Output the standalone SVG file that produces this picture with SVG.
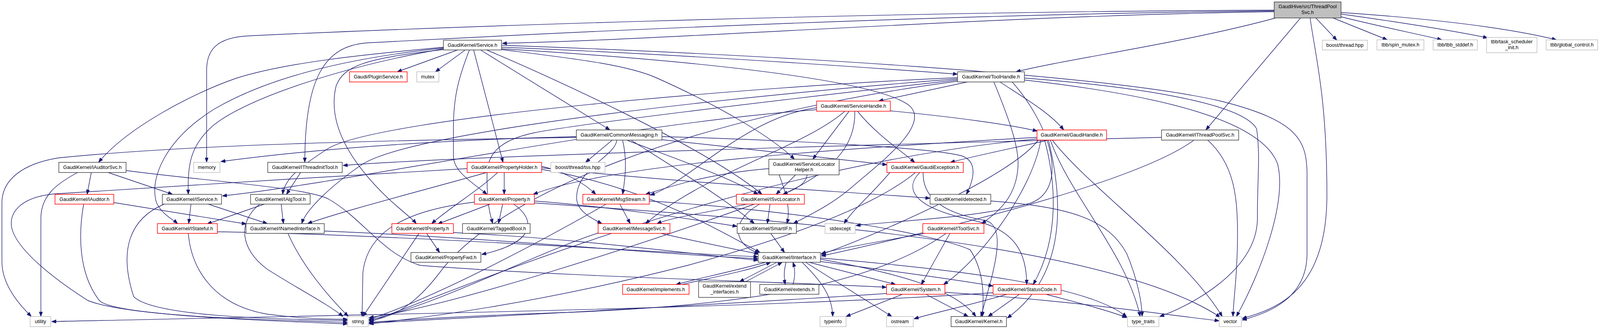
<svg xmlns="http://www.w3.org/2000/svg" width="4189" height="843" viewBox="0 0 4189 843">
<style>
.e path{fill:none;stroke:#191970;stroke-width:1.4;marker-end:url(#a)}
g.k rect{fill:#fff;stroke:#404040;stroke-width:1.5}
g.r rect{fill:#fff;stroke:#ff0000;stroke-width:1.5}
g.g rect{fill:#fff;stroke:#bfbfbf;stroke-width:1.5}
g.root rect{fill:#bfbfbf;stroke:#404040;stroke-width:1.5}
text{font-family:"Liberation Sans",Arial,Helvetica,sans-serif;font-size:13px;text-anchor:middle;fill:#000}
</style>
<defs>
<marker id="a" markerWidth="12" markerHeight="9" refX="12" refY="4.5" orient="auto" markerUnits="userSpaceOnUse"><path d="M0,0 L12,4.5 L0,9 z" fill="#191970" stroke="#191970" stroke-width="1"/></marker>
</defs>
<rect width="4189" height="843" fill="#fff"/>
<g id="diagram" transform="scale(0.9778 1)">
<g id="edges" class="e">
<path d="M3336,30 C2600,40 1800,100 1315,111"/>
<path d="M3336,26 C2200,30 1000,75 650,92 C565,96 541,130 541,180 L541,416"/>
<path d="M3336,28 C2300,38 1150,100 960,110 C850,118 798,200 798,416"/>
<path d="M3340,46 C3100,110 2800,150 2660,184"/>
<path d="M3405,46 L3157,333"/>
<path d="M3430,46 C3445,150 3474,250 3474,500 C3474,740 3350,790 3252,816"/>
<path d="M3445,46 L3500,103"/>
<path d="M3490,46 L3632,102"/>
<path d="M3511,43 C3600,65 3700,85 3775,102"/>
<path d="M3511,36 C3650,55 3800,78 3895,97"/>
<path d="M3511,32 C3750,48 3950,72 4075,102"/>
<path d="M1198,128 L1040,184"/>
<path d="M1218,128 L1140,184"/>
<path d="M1161,121 C950,140 750,160 620,200 C500,240 330,330 258,416"/>
<path d="M1161,123 C900,150 700,200 560,280 C430,360 390,460 410,520 C425,550 450,560 465,573"/>
<path d="M1161,125 C900,170 650,250 560,320 C500,370 490,420 493,498"/>
<path d="M1161,127 C950,150 900,170 880,220 C860,300 900,380 960,450 C1020,520 1070,550 1090,573"/>
<path d="M1229,128 C1200,200 1187,250 1187,330 L1187,400 C1187,440 1240,470 1275,498"/>
<path d="M1240,128 L1317,416"/>
<path d="M1258,128 L1597,333"/>
<path d="M1274,128 C1450,200 1850,380 1995,498"/>
<path d="M1313,116 C2000,140 2900,190 3200,260 C3400,310 3422,360 3422,450 L3422,650 C3422,760 3330,800 3252,820"/>
<path d="M1313,121 C1800,140 2300,175 2507,190"/>
<path d="M1313,125 C1900,160 2300,210 2380,270 C2440,320 2300,420 2230,480 C2170,530 2110,555 2077,573"/>
<path d="M1313,127 C1500,150 1640,165 1720,200 C1880,270 2020,350 2080,408"/>
<path d="M2533,210 L2300,259"/>
<path d="M2618,210 C2680,250 2750,290 2785,333"/>
<path d="M2507,199 C2000,220 1000,300 860,380 C780,430 745,460 740,498"/>
<path d="M2507,202 C2000,240 1100,330 950,420 C860,480 800,540 790,573"/>
<path d="M2507,205 C2000,260 1500,320 1400,340 C1300,360 1275,400 1275,450 C1275,530 1285,555 1290,573"/>
<path d="M2602,210 C2640,300 2670,380 2665,430 C2660,500 2620,540 2570,573"/>
<path d="M2650,210 C2750,320 2800,480 2700,520 C2550,560 2350,565 2241,578"/>
<path d="M2507,208 C1800,300 1300,500 1150,700 C1080,790 1020,815 966,822"/>
<path d="M2682,200 C2950,220 3250,260 3290,330 C3300,400 3292,450 3292,560 C3292,700 3100,790 3036,811"/>
<path d="M2682,205 C3000,240 3300,300 3345,420 C3370,520 3300,700 3237,811"/>
<path d="M2331,284 C2500,300 2650,320 2716,336"/>
<path d="M2223,285 L2128,408"/>
<path d="M2245,285 C2290,340 2350,380 2395,416"/>
<path d="M2212,285 C2100,380 1850,440 1690,573"/>
<path d="M2238,285 C2240,360 2200,430 2050,498"/>
<path d="M2138,276 C1950,300 1800,470 1702,500"/>
<path d="M2138,281 C1600,320 900,470 582,502"/>
<path d="M1603,359 L1533,416"/>
<path d="M1733,358 C1950,380 2200,410 2322,422"/>
<path d="M1733,350 C2100,360 2450,380 2520,400 C2560,415 2550,460 2530,498"/>
<path d="M1630,359 C1640,400 1640,440 1630,498"/>
<path d="M1615,359 C1610,400 1515,430 1510,500 C1505,540 1550,560 1576,573"/>
<path d="M1641,359 C1750,400 1900,450 1985,498"/>
<path d="M1652,359 C1750,420 1900,510 1975,573"/>
<path d="M1509,350 C1100,360 800,385 578,414"/>
<path d="M1509,352 C1000,360 500,370 150,405 C60,420 5,460 5,520 L5,670 C5,730 50,780 82,811"/>
<path d="M2745,359 C2650,380 2550,400 2488,416"/>
<path d="M2715,352 C2200,380 1600,420 1396,498"/>
<path d="M2718,359 C2650,450 2300,600 2150,652"/>
<path d="M2725,359 C2700,500 2550,680 2470,729"/>
<path d="M2735,359 C2760,450 2780,600 2705,729"/>
<path d="M2745,359 C2780,500 2800,700 2637,815"/>
<path d="M2750,359 C2800,500 2950,650 2985,811"/>
<path d="M2755,359 C2850,480 3100,650 3200,811"/>
<path d="M2715,356 C2000,420 1300,700 966,826"/>
<path d="M3041,352 C2300,370 1200,400 898,424"/>
<path d="M3126,359 C3000,450 2600,560 2150,656"/>
<path d="M3162,359 C3230,420 3240,500 3240,600 C3240,700 3230,760 3228,811"/>
<path d="M239,442 L228,498"/>
<path d="M283,442 L452,498"/>
<path d="M203,442 C150,470 107,500 107,560 L107,811"/>
<path d="M330,437 C550,465 800,480 860,510 C950,560 1000,650 1100,680 C1500,710 2000,720 2321,736"/>
<path d="M298,519 L645,574"/>
<path d="M219,523 C205,600 205,700 260,770 C300,810 700,820 910,826"/>
<path d="M500,523 L494,573"/>
<path d="M545,523 L700,573"/>
<path d="M430,523 C340,560 310,640 350,760 C400,810 700,818 910,821"/>
<path d="M736,523 L742,573"/>
<path d="M692,523 L542,574"/>
<path d="M680,523 C620,570 630,640 700,690 C780,740 860,780 898,811"/>
<path d="M787,442 L750,498"/>
<path d="M1303,442 C1250,490 1180,530 1130,573"/>
<path d="M1320,442 L1320,498"/>
<path d="M1274,442 C1100,490 900,540 805,573"/>
<path d="M1223,432 C900,450 400,480 140,497 C60,505 25,540 30,580 C40,640 150,720 230,770 C330,810 700,822 910,830"/>
<path d="M1418,426 C1480,440 1530,470 1560,498"/>
<path d="M1418,434 C1700,480 1900,600 1990,647"/>
<path d="M2083,448 L2032,498"/>
<path d="M2013,432 C1850,445 1750,480 1690,498"/>
<path d="M2040,448 C2060,500 2070,540 2060,573"/>
<path d="M2113,448 C2110,520 1800,540 1720,573"/>
<path d="M2408,442 C2370,480 2380,530 2550,565 C2660,590 2688,650 2688,729"/>
<path d="M2417,442 C2415,500 2460,545 2580,565 C2640,580 2600,700 2568,811"/>
<path d="M2397,442 C2300,520 2100,600 1800,680 C1400,780 1100,815 966,830"/>
<path d="M2330,442 C2280,500 2230,540 2210,573"/>
<path d="M1283,523 L1146,574"/>
<path d="M1316,523 L1305,573"/>
<path d="M1345,523 C1400,560 1410,620 1261,652"/>
<path d="M1242,518 C1050,540 960,600 950,700 L948,811"/>
<path d="M1399,515 C1600,530 1800,560 1930,580"/>
<path d="M1418,430 C1800,470 2200,490 2435,508"/>
<path d="M1399,520 C2000,560 2900,620 3195,813"/>
<path d="M1623,523 L1650,573"/>
<path d="M1587,523 C1450,600 1150,760 966,818"/>
<path d="M1700,515 C2100,540 2450,600 2540,640 C2580,700 2575,770 2572,811"/>
<path d="M2016,523 L2009,573"/>
<path d="M1989,523 C1920,560 1910,620 1987,650"/>
<path d="M1975,523 C1700,620 1200,780 966,814"/>
<path d="M569,594 C1000,600 1600,640 1985,658"/>
<path d="M493,598 C500,680 550,780 700,805 C800,818 880,818 910,818"/>
<path d="M849,592 C1300,610 1700,650 1985,663"/>
<path d="M754,598 C790,680 860,760 912,811"/>
<path d="M1187,596 C1500,610 1800,650 1985,667"/>
<path d="M1117,598 L1151,647"/>
<path d="M1097,598 L950,811"/>
<path d="M1730,598 C1830,620 1930,640 1987,651"/>
<path d="M1566,597 C1400,650 1150,780 966,820"/>
<path d="M2018,598 L2054,647"/>
<path d="M2421,598 C2300,620 2200,635 2150,650"/>
<path d="M2487,598 L2412,729"/>
<path d="M2477,598 C2300,720 2000,780 1500,800 C1200,810 1050,820 966,826"/>
<path d="M2005,672 C1900,700 1820,715 1770,729"/>
<path d="M1785,729 C1880,708 1965,692 2018,672"/>
<path d="M2034,672 L1936,722"/>
<path d="M1952,722 L2048,672"/>
<path d="M2058,672 C2052,695 2052,710 2056,729"/>
<path d="M2076,729 C2082,710 2082,690 2076,672"/>
<path d="M2100,672 C2150,720 2180,760 2180,811"/>
<path d="M2109,672 L2335,811"/>
<path d="M2118,672 L2345,729"/>
<path d="M2148,670 C2300,690 2500,715 2600,733"/>
<path d="M2148,664 C2350,700 2500,740 2555,811"/>
<path d="M2148,661 C2500,690 2850,730 2950,812"/>
<path d="M2363,754 L2215,811"/>
<path d="M2424,754 L2535,811"/>
<path d="M2321,752 C1900,780 1300,810 966,828"/>
<path d="M2474,749 C2800,770 3000,800 3192,822"/>
<path d="M2636,754 C2550,780 2450,800 2393,817"/>
<path d="M2669,754 L2587,811"/>
<path d="M2738,754 C2820,775 2900,795 2950,814"/>
<path d="M2600,750 C2000,790 1000,805 135,824"/>
<path d="M2594,515 C2800,530 2900,560 2950,650 C2980,720 2990,780 2990,811"/>
</g>
<g id="n_ThreadPoolSvc" class="root"><rect x="3336" y="5" width="175" height="41"/><text x="3423.5" y="21.5">GaudiHive/src/ThreadPool</text><text x="3423.5" y="36.5">Svc.h</text></g>
<g id="n_boost_thread" class="g"><rect x="3462" y="103" width="118" height="25"/><text x="3521" y="120">boost/thread.hpp</text></g>
<g id="n_tbb_spin_mutex" class="g"><rect x="3605" y="102" width="123" height="26"/><text x="3666.5" y="119.5">tbb/spin_mutex.h</text></g>
<g id="n_tbb_stddef" class="g"><rect x="3752" y="102" width="116" height="26"/><text x="3810" y="119.5">tbb/tbb_stddef.h</text></g>
<g id="n_tbb_task_scheduler_init" class="g"><rect x="3892" y="96" width="132" height="39"/><text x="3958" y="111">tbb/task_scheduler</text><text x="3958" y="126">_init.h</text></g>
<g id="n_tbb_global_control" class="g"><rect x="4048" y="102" width="135" height="26"/><text x="4115.5" y="119.5">tbb/global_control.h</text></g>
<g id="n_Service" class="k"><rect x="1161" y="103" width="152" height="25"/><text x="1237" y="120">GaudiKernel/Service.h</text></g>
<g id="n_PluginService" class="r"><rect x="915" y="184" width="151" height="26"/><text x="990.5" y="201.5">Gaudi/PluginService.h</text></g>
<g id="n_mutex" class="g"><rect x="1091" y="184" width="58" height="26"/><text x="1120" y="201.5">mutex</text></g>
<g id="n_ToolHandle" class="k"><rect x="2507" y="184" width="175" height="26"/><text x="2594.5" y="201.5">GaudiKernel/ToolHandle.h</text></g>
<g id="n_ServiceHandle" class="r"><rect x="2138" y="259" width="193" height="26"/><text x="2234.5" y="276.5">GaudiKernel/ServiceHandle.h</text></g>
<g id="n_CommonMessaging" class="k"><rect x="1509" y="333" width="224" height="26"/><text x="1621" y="350.5">GaudiKernel/CommonMessaging.h</text></g>
<g id="n_GaudiHandle" class="r"><rect x="2715" y="333" width="182" height="26"/><text x="2806" y="350.5">GaudiKernel/GaudiHandle.h</text></g>
<g id="n_IThreadPoolSvc" class="k"><rect x="3041" y="333" width="202" height="26"/><text x="3142" y="350.5">GaudiKernel/IThreadPoolSvc.h</text></g>
<g id="n_IAuditorSvc" class="k"><rect x="154" y="416" width="176" height="26"/><text x="242" y="433.5">GaudiKernel/IAuditorSvc.h</text></g>
<g id="n_memory" class="g"><rect x="507" y="416" width="69" height="26"/><text x="541.5" y="433.5">memory</text></g>
<g id="n_IThreadInitTool" class="k"><rect x="701" y="416" width="195" height="26"/><text x="798.5" y="433.5">GaudiKernel/IThreadInitTool.h</text></g>
<g id="n_PropertyHolder" class="r"><rect x="1223" y="416" width="195" height="26"/><text x="1320.5" y="433.5">GaudiKernel/PropertyHolder.h</text></g>
<g id="n_boost_tss" class="g"><rect x="1442" y="416" width="142" height="26"/><text x="1513" y="433.5">boost/thread/tss.hpp</text></g>
<g id="n_ServiceLocatorHelper" class="k"><rect x="2013" y="408" width="184" height="40"/><text x="2105" y="425">GaudiKernel/ServiceLocator</text><text x="2105" y="439">Helper.h</text></g>
<g id="n_GaudiException" class="r"><rect x="2322" y="416" width="200" height="26"/><text x="2422" y="433.5">GaudiKernel/GaudiException.h</text></g>
<g id="n_IAuditor" class="r"><rect x="144" y="498" width="154" height="25"/><text x="221" y="515">GaudiKernel/IAuditor.h</text></g>
<g id="n_IService" class="k"><rect x="425" y="498" width="155" height="25"/><text x="502.5" y="515">GaudiKernel/IService.h</text></g>
<g id="n_IAlgTool" class="k"><rect x="656" y="498" width="156" height="25"/><text x="734" y="515">GaudiKernel/IAlgTool.h</text></g>
<g id="n_Property" class="r"><rect x="1242" y="498" width="157" height="25"/><text x="1320.5" y="515">GaudiKernel/Property.h</text></g>
<g id="n_MsgStream" class="r"><rect x="1526" y="498" width="174" height="25"/><text x="1613" y="515">GaudiKernel/MsgStream.h</text></g>
<g id="n_ISvcLocator" class="r"><rect x="1928" y="498" width="178" height="25"/><text x="2017" y="515">GaudiKernel/ISvcLocator.h</text></g>
<g id="n_detected" class="k"><rect x="2435" y="498" width="159" height="25"/><text x="2514.5" y="515">GaudiKernel/detected.h</text></g>
<g id="n_IStateful" class="r"><rect x="412" y="573" width="157" height="25"/><text x="490.5" y="590">GaudiKernel/IStateful.h</text></g>
<g id="n_INamedInterface" class="k"><rect x="644" y="573" width="205" height="25"/><text x="746.5" y="590">GaudiKernel/INamedInterface.h</text></g>
<g id="n_IProperty" class="r"><rect x="1026" y="573" width="161" height="25"/><text x="1106.5" y="590">GaudiKernel/IProperty.h</text></g>
<g id="n_TaggedBool" class="k"><rect x="1211" y="573" width="177" height="25"/><text x="1299.5" y="590">GaudiKernel/TaggedBool.h</text></g>
<g id="n_IMessageSvc" class="r"><rect x="1566" y="573" width="188" height="25"/><text x="1660" y="590">GaudiKernel/IMessageSvc.h</text></g>
<g id="n_SmartIF" class="k"><rect x="1930" y="573" width="155" height="25"/><text x="2007.5" y="590">GaudiKernel/SmartIF.h</text></g>
<g id="n_stdexcept" class="g"><rect x="2160" y="573" width="79" height="25"/><text x="2199.5" y="590">stdexcept</text></g>
<g id="n_IToolSvc" class="r"><rect x="2416" y="573" width="160" height="25"/><text x="2496" y="590">GaudiKernel/IToolSvc.h</text></g>
<g id="n_PropertyFwd" class="k"><rect x="1076" y="647" width="183" height="25"/><text x="1167.5" y="664">GaudiKernel/PropertyFwd.h</text></g>
<g id="n_IInterface" class="k"><rect x="1985" y="647" width="163" height="25"/><text x="2066.5" y="664">GaudiKernel/IInterface.h</text></g>
<g id="n_implements" class="r"><rect x="1630" y="729" width="174" height="25"/><text x="1717" y="746">GaudiKernel/implements.h</text></g>
<g id="n_extend_interfaces" class="k"><rect x="1829" y="722" width="136" height="40"/><text x="1897" y="737.5">GaudiKernel/extend</text><text x="1897" y="752.5">_interfaces.h</text></g>
<g id="n_extends" class="k"><rect x="1989" y="729" width="155" height="25"/><text x="2066.5" y="746">GaudiKernel/extends.h</text></g>
<g id="n_System" class="r"><rect x="2321" y="729" width="153" height="25"/><text x="2397.5" y="746">GaudiKernel/System.h</text></g>
<g id="n_StatusCode" class="r"><rect x="2600" y="729" width="178" height="25"/><text x="2689" y="746">GaudiKernel/StatusCode.h</text></g>
<g id="n_utility" class="g"><rect x="79" y="811" width="54" height="26"/><text x="106" y="828.5">utility</text></g>
<g id="n_string" class="g"><rect x="910" y="811" width="54" height="26"/><text x="937" y="828.5">string</text></g>
<g id="n_typeinfo" class="g"><rect x="2147" y="811" width="68" height="26"/><text x="2181" y="828.5">typeinfo</text></g>
<g id="n_ostream" class="g"><rect x="2321" y="811" width="70" height="26"/><text x="2356" y="828.5">ostream</text></g>
<g id="n_Kernel" class="k"><rect x="2490" y="811" width="145" height="26"/><text x="2562.5" y="828.5">GaudiKernel/Kernel.h</text></g>
<g id="n_type_traits" class="g"><rect x="2952" y="811" width="82" height="26"/><text x="2993" y="828.5">type_traits</text></g>
<g id="n_vector" class="g"><rect x="3192" y="811" width="58" height="26"/><text x="3221" y="828.5">vector</text></g>
</g>
</svg>
